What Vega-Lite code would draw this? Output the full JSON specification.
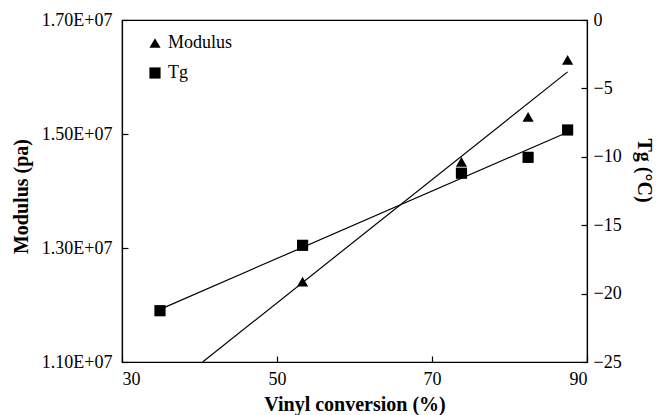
{
  "$schema": "https://vega.github.io/schema/vega-lite/v6.json",
  "width": 465,
  "height": 342,
  "autosize": {"type": "none"},
  "padding": {"left": 122, "top": 20, "right": 69, "bottom": 53},
  "background": "white",
  "config": {
    "font": "Liberation Serif",
    "view": {"stroke": "black", "strokeWidth": 1.2},
    "axis": {
      "labelFont": "Liberation Serif",
      "labelFontSize": 18,
      "labelColor": "black",
      "titleFont": "Liberation Serif",
      "titleFontSize": 20,
      "titleFontWeight": "bold",
      "titleColor": "black",
      "domainColor": "black",
      "domainWidth": 1.2,
      "tickColor": "black",
      "tickWidth": 1.2,
      "tickSize": -6,
      "grid": false
    },
    "axisLeft": {"labelPadding": 16},
    "axisRight": {"labelPadding": 12},
    "axisBottom": {"labelPadding": 14},
    "legend": {
      "labelFont": "Liberation Serif",
      "labelFontSize": 18,
      "labelColor": "black"
    }
  },
  "datasets": {
    "modulus": [
      {"series": "Modulus", "conversion": 53.3, "modulus": 12410000},
      {"series": "Modulus", "conversion": 73.8, "modulus": 14510000},
      {"series": "Modulus", "conversion": 82.4, "modulus": 15300000},
      {"series": "Modulus", "conversion": 87.5, "modulus": 16300000}
    ],
    "tg": [
      {"series": "Tg", "conversion": 34.9, "tg": -21.25},
      {"series": "Tg", "conversion": 53.3, "tg": -16.47},
      {"series": "Tg", "conversion": 73.8, "tg": -11.2},
      {"series": "Tg", "conversion": 82.4, "tg": -10.04},
      {"series": "Tg", "conversion": 87.5, "tg": -8.04}
    ],
    "modulus_fit": [
      {"conversion": 40.4, "modulus": 11000000},
      {"conversion": 87.5, "modulus": 16090000}
    ],
    "tg_fit": [
      {"conversion": 34.9, "tg": -21.15},
      {"conversion": 87.5, "tg": -8.2}
    ]
  },
  "layer": [
    {
      "layer": [
        {
          "data": {"name": "modulus_fit"},
          "mark": {"type": "line", "color": "black", "strokeWidth": 1.2},
          "encoding": {
            "x": {"field": "conversion", "type": "quantitative"},
            "y": {"field": "modulus", "type": "quantitative"}
          }
        },
        {
          "data": {"name": "modulus"},
          "mark": {"type": "point", "filled": true, "color": "black", "opacity": 1, "size": 125},
          "encoding": {
            "x": {
              "field": "conversion",
              "type": "quantitative",
              "scale": {"domain": [30, 90], "nice": false, "zero": false},
              "axis": {"values": [30, 50, 70, 90], "title": "Vinyl conversion (%)", "titlePadding": 6}
            },
            "y": {
              "field": "modulus",
              "type": "quantitative",
              "scale": {"domain": [11000000, 17000000], "nice": false, "zero": false},
              "axis": {
                "values": [11000000, 13000000, 15000000, 17000000],
                "labelExpr": "format(datum.value / 10000000, '.2f') + 'E+07'",
                "title": "Modulus (pa)",
                "titlePadding": 10,
                "titleY": 176
              }
            },
            "shape": {
              "field": "series",
              "type": "nominal",
              "scale": {"domain": ["Modulus", "Tg"], "range": ["triangle-up", "square"]},
              "legend": {
                "title": null,
                "orient": "none",
                "legendX": 24,
                "legendY": 14,
                "padding": 0,
                "rowPadding": 12,
                "symbolSize": 125,
                "symbolFillColor": "black",
                "symbolStrokeColor": "black",
                "labelOffset": 4
              }
            }
          }
        }
      ]
    },
    {
      "layer": [
        {
          "data": {"name": "tg_fit"},
          "mark": {"type": "line", "color": "black", "strokeWidth": 1.2},
          "encoding": {
            "x": {"field": "conversion", "type": "quantitative"},
            "y": {"field": "tg", "type": "quantitative"}
          }
        },
        {
          "data": {"name": "tg"},
          "mark": {"type": "point", "filled": true, "color": "black", "opacity": 1, "size": 125},
          "encoding": {
            "x": {"field": "conversion", "type": "quantitative"},
            "y": {
              "field": "tg",
              "type": "quantitative",
              "scale": {"domain": [-25, 0], "nice": false, "zero": false},
              "axis": {
                "orient": "right",
                "values": [-25, -20, -15, -10, -5, 0],
                "title": "Tg (°C)",
                "titlePadding": 12,
                "titleY": 150
              }
            },
            "shape": {
              "field": "series",
              "type": "nominal",
              "scale": {"domain": ["Modulus", "Tg"], "range": ["triangle-up", "square"]}
            }
          }
        }
      ]
    }
  ],
  "resolve": {"scale": {"y": "independent"}}
}
